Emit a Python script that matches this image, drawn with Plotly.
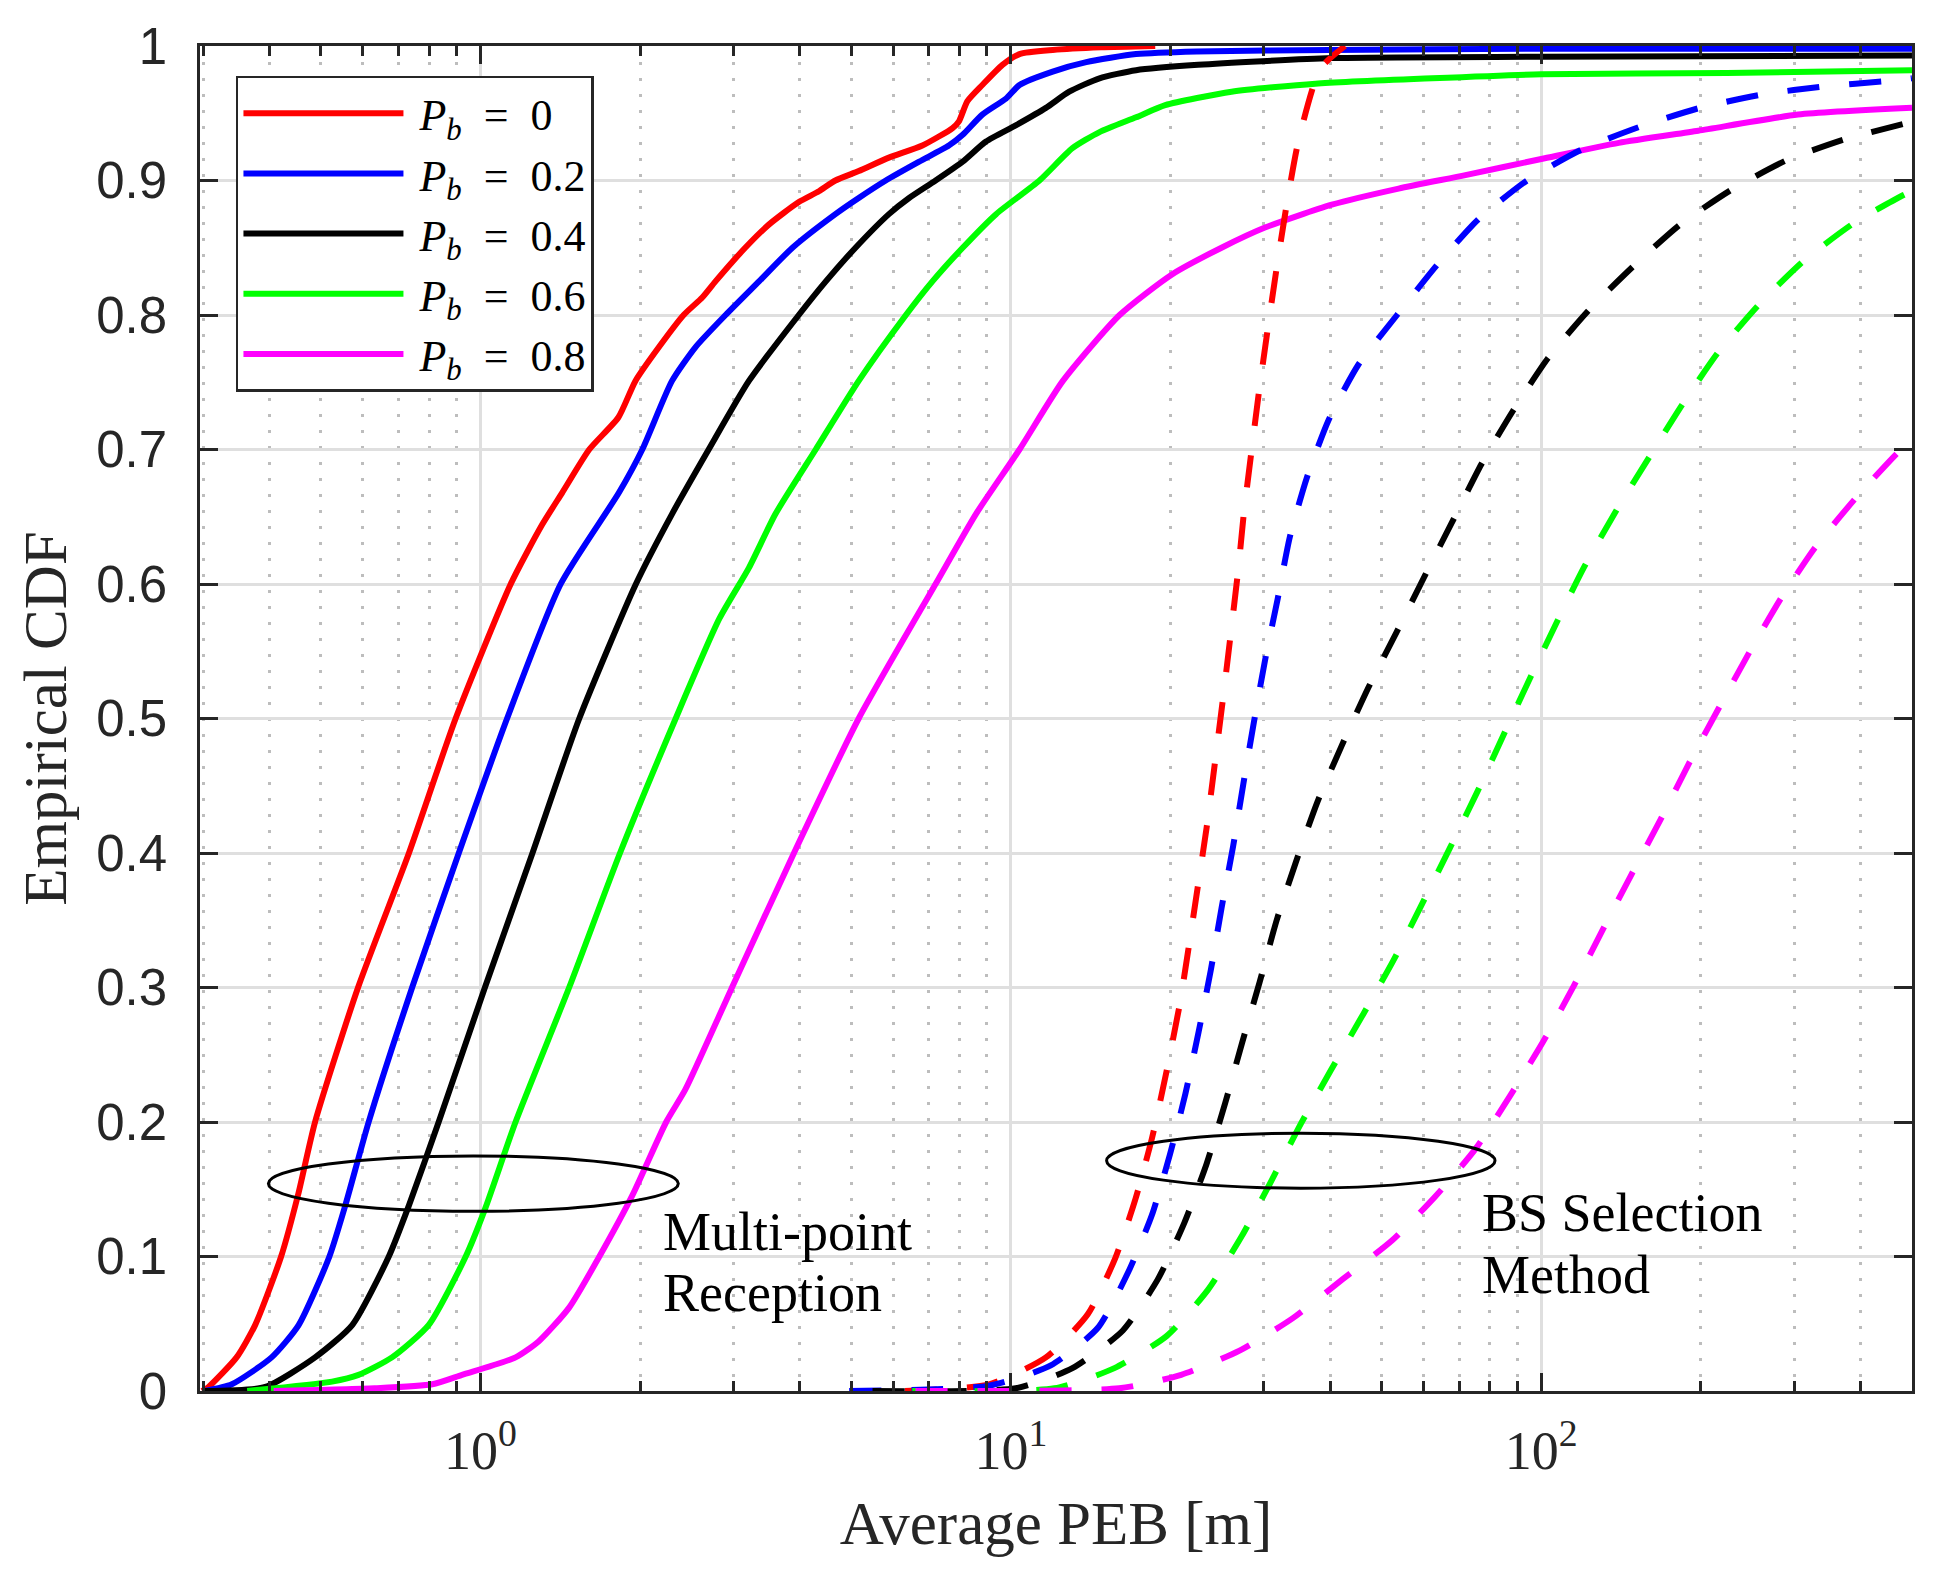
import plotly.graph_objects as go

# ---------------- data (PEB in metres, empirical CDF values) ----------------
series_labels = ["0", "0.2", "0.4", "0.6", "0.8"]
series_colors = ["#ff0000", "#0000ff", "#000000", "#00ff00", "#ff00ff"]

# Multi-point reception (solid)
mp_pb0_x = [0.2985, 0.3069, 0.3467, 0.3758, 0.4207, 0.4529, 0.4875, 0.5875, 0.7328, 0.8974,
            1.140, 1.306, 1.426, 1.603, 1.820, 1.959, 2.168, 2.415, 2.618, 2.773, 3.155, 3.491,
            3.981, 4.345, 4.667, 5.164, 5.888, 6.808, 7.762, 7.980, 8.279, 8.831, 9.638, 10.38,
            11.99, 14.79, 18.71]
mp_pb0_y = [0.0, 0.003, 0.025, 0.049, 0.1, 0.146, 0.2, 0.3, 0.4, 0.5,
            0.6, 0.644, 0.668, 0.7, 0.724, 0.751, 0.776, 0.8, 0.813, 0.825, 0.85, 0.867,
            0.884, 0.892, 0.9, 0.907, 0.917, 0.926, 0.939, 0.944, 0.959, 0.971, 0.986, 0.994,
            0.997, 0.999, 1.0]

mp_pb2_x = [0.302, 0.3396, 0.4036, 0.4539, 0.5188, 0.5559, 0.6152, 0.7430, 0.9099, 1.122,
            1.416, 1.824, 2.018, 2.296, 2.541, 2.897, 3.350, 3.873, 4.667, 5.164, 5.808, 6.714,
            7.638, 8.110, 8.831, 9.795, 10.38, 11.99, 13.87, 17.22, 22.39, 39.81, 100.0, 500.0]
mp_pb2_y = [0.0, 0.005, 0.025, 0.049, 0.1, 0.138, 0.2, 0.3, 0.4, 0.5,
            0.6, 0.668, 0.7, 0.751, 0.776, 0.8, 0.825, 0.85, 0.875, 0.887, 0.9, 0.914,
            0.926, 0.934, 0.949, 0.961, 0.971, 0.981, 0.988, 0.994, 0.996, 0.997, 0.998, 0.998]

mp_pb4_x = [0.302, 0.3926, 0.4875, 0.5728, 0.6714, 0.7328, 0.8337, 1.019, 1.253, 1.535,
            1.963, 2.296, 2.692, 3.206, 3.981, 4.477, 5.093, 5.888, 6.427, 7.211, 8.110, 8.974,
            10.21, 11.64, 12.88, 14.69, 17.22, 22.54, 40.27, 100.0, 500.0]
mp_pb4_y = [0.0, 0.003, 0.025, 0.049, 0.1, 0.138, 0.2, 0.3, 0.4, 0.5,
            0.6, 0.652, 0.7, 0.751, 0.8, 0.825, 0.85, 0.875, 0.887, 0.9, 0.914, 0.929,
            0.941, 0.954, 0.966, 0.976, 0.982, 0.986, 0.991, 0.992, 0.993]

mp_pb6_x = [0.3631, 0.5248, 0.5888, 0.6808, 0.7980, 0.9376, 1.021, 1.164, 1.469, 1.832,
            2.333, 2.818, 3.206, 3.597, 4.285, 5.164, 6.339, 7.112, 8.110, 9.376, 11.32, 13.06,
            14.69, 17.22, 19.54, 26.06, 37.50, 62.23, 100.0, 223.9, 500.0]
mp_pb6_y = [0.0, 0.007, 0.012, 0.025, 0.049, 0.1, 0.136, 0.2, 0.3, 0.4,
            0.5, 0.574, 0.612, 0.652, 0.7, 0.751, 0.8, 0.825, 0.85, 0.875, 0.9, 0.924,
            0.936, 0.947, 0.956, 0.966, 0.972, 0.976, 0.979, 0.980, 0.982]

mp_pb8_x = [0.4074, 0.631, 0.8110, 0.9226, 1.164, 1.288, 1.469, 1.675, 1.936, 2.239, 2.432,
            2.818, 2.979, 3.899, 5.164, 7.211, 8.590, 10.38, 12.53, 16.03, 20.09, 24.95, 30.13,
            40.27, 53.83, 71.94, 100.0, 140.0, 197.7, 304.8, 500.0]
mp_pb8_y = [0.0, 0.002, 0.005, 0.012, 0.025, 0.037, 0.062, 0.1, 0.146, 0.2, 0.224,
            0.279, 0.3, 0.4, 0.5, 0.6, 0.652, 0.7, 0.751, 0.8, 0.830, 0.850, 0.865,
            0.882, 0.894, 0.904, 0.916, 0.928, 0.937, 0.949, 0.954]

# BS selection method (dashed)
bs_pb0_x = [6.310, 9.099, 11.64, 13.96, 15.74, 17.18, 18.45, 19.59, 20.80, 21.58, 22.49,
            23.39, 24.21, 25.06, 25.88, 26.85, 27.48, 28.38, 29.38, 30.48, 31.70, 33.11,
            34.83, 38.28, 42.66]
bs_pb0_y = [0.0, 0.005, 0.025, 0.057, 0.099, 0.143, 0.188, 0.235, 0.287, 0.327, 0.374,
            0.419, 0.465, 0.512, 0.558, 0.612, 0.652, 0.697, 0.744, 0.789, 0.835, 0.882,
            0.929, 0.983, 1.0]

bs_pb2_x = [4.955, 9.099, 11.89, 14.59, 16.67, 18.45, 19.95, 21.33, 22.59, 23.82, 24.95,
            26.24, 27.42, 28.71, 30.13, 31.84, 33.57, 36.14, 39.72, 45.19, 53.46, 63.53,
            76.03, 93.97, 119.1, 153.5, 199.1, 261.2, 342.8, 449.8, 500.0]
bs_pb2_y = [0.0, 0.004, 0.019, 0.047, 0.089, 0.131, 0.176, 0.221, 0.267, 0.313, 0.359,
            0.405, 0.451, 0.497, 0.543, 0.589, 0.635, 0.679, 0.722, 0.763, 0.8, 0.837,
            0.871, 0.9, 0.923, 0.940, 0.954, 0.964, 0.970, 0.974, 0.976]

bs_pb4_x = [5.483, 10.21, 13.06, 16.26, 18.92, 21.23, 23.39, 25.35, 27.29, 29.44, 31.70,
            34.44, 37.84, 42.07, 47.21, 53.33, 60.12, 68.08, 77.09, 88.51, 103.0, 122.5,
            148.9, 182.4, 228.0, 289.7, 375.8, 480.8, 500.0]
bs_pb4_y = [0.0, 0.002, 0.017, 0.045, 0.083, 0.125, 0.169, 0.214, 0.259, 0.304, 0.350,
            0.393, 0.438, 0.480, 0.523, 0.564, 0.605, 0.647, 0.689, 0.729, 0.768, 0.803,
            0.836, 0.867, 0.893, 0.915, 0.931, 0.942, 0.944]

bs_pb6_x = [6.516, 12.08, 15.67, 19.68, 23.50, 27.23, 31.05, 35.24, 40.18, 46.13, 52.60,
            59.57, 67.30, 75.86, 84.92, 95.50, 107.4, 120.2, 138.7, 159.6, 184.9, 215.3,
            257.6, 311.9, 387.3, 480.8, 500.0]
bs_pb6_y = [0.0, 0.002, 0.017, 0.041, 0.075, 0.115, 0.157, 0.199, 0.239, 0.280, 0.320,
            0.362, 0.404, 0.446, 0.488, 0.531, 0.573, 0.612, 0.655, 0.694, 0.734, 0.772,
            0.808, 0.840, 0.868, 0.889, 0.892]

bs_pb8_x = [6.607, 16.00, 20.94, 26.98, 33.96, 42.17, 52.36, 63.24, 75.16, 87.50, 100.9,
            115.1, 130.6, 147.9, 167.9, 190.1, 216.3, 246.6, 283.8, 328.1, 389.9, 471.0, 500.0]
bs_pb8_y = [0.0, 0.002, 0.012, 0.030, 0.054, 0.083, 0.112, 0.145, 0.180, 0.220, 0.260,
            0.301, 0.343, 0.384, 0.425, 0.467, 0.508, 0.549, 0.590, 0.627, 0.663, 0.698, 0.707]

multi_point_x = [mp_pb0_x, mp_pb2_x, mp_pb4_x, mp_pb6_x, mp_pb8_x]
multi_point_y = [mp_pb0_y, mp_pb2_y, mp_pb4_y, mp_pb6_y, mp_pb8_y]
bs_sel_x = [bs_pb0_x, bs_pb2_x, bs_pb4_x, bs_pb6_x, bs_pb8_x]
bs_sel_y = [bs_pb0_y, bs_pb2_y, bs_pb4_y, bs_pb6_y, bs_pb8_y]

# axis ticks
x_tick_vals = [1, 10, 100]
x_tick_text = ["10<sup>0</sup>", "10<sup>1</sup>", "10<sup>2</sup>"]
x_minor_vals = [0.3, 0.4, 0.5, 0.6, 0.7, 0.8, 0.9,
                2, 3, 4, 5, 6, 7, 8, 9,
                20, 30, 40, 50, 60, 70, 80, 90,
                200, 300, 400, 500]
y_tick_vals = [0, 0.1, 0.2, 0.3, 0.4, 0.5, 0.6, 0.7, 0.8, 0.9, 1]
y_tick_text = ["0", "0.1", "0.2", "0.3", "0.4", "0.5", "0.6", "0.7", "0.8", "0.9", "1"]

# ---------------- figure ----------------
SERIF = "Liberation Serif, Times New Roman, serif"
SANS = "Liberation Sans, Arial, sans-serif"
AX = "#262626"

fig = go.Figure()

for lbl, col, xs, ys in zip(series_labels, series_colors, multi_point_x, multi_point_y):
    fig.add_trace(go.Scatter(
        x=xs, y=ys, mode="lines",
        line=dict(color=col, width=6, shape="spline", smoothing=0.6),
        name="&nbsp;<i>P</i><sub><i>b</i></sub>&nbsp;&nbsp;=&nbsp;&nbsp;" + lbl,
        showlegend=True,
    ))

for lbl, col, xs, ys in zip(series_labels, series_colors, bs_sel_x, bs_sel_y):
    fig.add_trace(go.Scatter(
        x=xs, y=ys, mode="lines",
        line=dict(color=col, width=6, dash="32px,30px", shape="spline", smoothing=0.6),
        name="BS selection, P_b = " + lbl,
        showlegend=False,
    ))

# ellipses around the curve groups
fig.add_shape(type="circle", xref="x", yref="y", x0=0.398, x1=2.36, y0=0.1336, y1=0.1748,
              line=dict(color="black", width=3))
fig.add_shape(type="circle", xref="x", yref="y", x0=15.15, x1=81.8, y0=0.1508, y1=0.1916,
              line=dict(color="black", width=3))

ann_font = dict(family=SERIF, size=54, color="black")
for txt, xx, yy in [("Multi-point", 0.3406, 0.1185), ("Reception", 0.3406, 0.0725),
                    ("BS Selection", 1.884, 0.1325), ("Method", 1.884, 0.0859)]:
    fig.add_annotation(text=txt, x=xx, y=yy, xref="x", yref="y", showarrow=False,
                       xanchor="left", yanchor="middle", font=ann_font)

# the page body adds an 8px margin, so the figure is 16px smaller than the window
fig.update_layout(
    width=1917, height=1567,
    margin=dict(l=192, r=10, t=29, b=184),
    paper_bgcolor="white", plot_bgcolor="white",
    showlegend=True,
    legend=dict(
        x=0.021, y=0.978, xanchor="left", yanchor="top",
        bgcolor="white", bordercolor=AX, borderwidth=2.5,
        font=dict(family=SERIF, size=44, color="black"),
        itemwidth=160,
    ),
)

fig.update_xaxes(
    type="log", range=[-0.529, 2.699],
    tickvals=x_tick_vals, ticktext=x_tick_text,
    tickfont=dict(family=SERIF, size=54, color=AX),
    ticks="inside", ticklen=18, tickwidth=2.5, tickcolor=AX,
    ticklabelstandoff=10,
    showline=True, linecolor=AX, linewidth=2.5, mirror="ticks",
    showgrid=True, gridcolor="#dfdfdf", gridwidth=2.5,
    minor=dict(tickvals=x_minor_vals, ticks="inside", ticklen=10, tickwidth=2.5,
               tickcolor=AX, showgrid=True, gridcolor="#bdbdbd", gridwidth=2.7,
               griddash="3px,13px"),
    zeroline=False,
    title=dict(text="Average PEB [m]", font=dict(family=SERIF, size=61, color=AX), standoff=22),
)

fig.update_yaxes(
    range=[0, 1],
    tickvals=y_tick_vals, ticktext=y_tick_text,
    tickfont=dict(family=SANS, size=51, color=AX),
    ticks="inside", ticklen=18, tickwidth=2.5, tickcolor=AX,
    ticklabelstandoff=20,
    showline=True, linecolor=AX, linewidth=2.5, mirror="ticks",
    showgrid=True, gridcolor="#dfdfdf", gridwidth=2.5,
    zeroline=False,
    title=dict(text="Empirical CDF", font=dict(family=SERIF, size=61, color=AX), standoff=10),
)

fig.write_html("out.html")
